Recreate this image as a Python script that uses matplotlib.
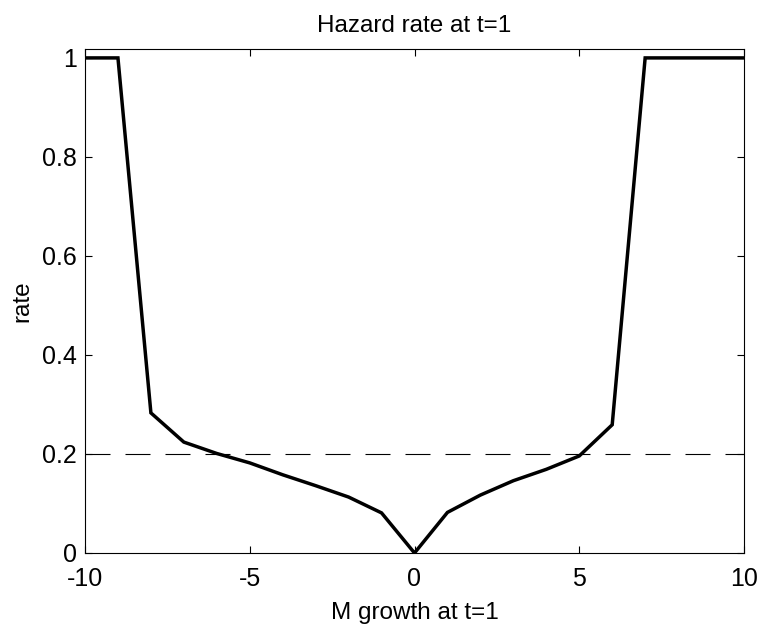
import matplotlib
matplotlib.use("Agg")
import matplotlib.pyplot as plt
import numpy as np

x = [-10, -9, -8, -7, -6, -5, -4, -3, -2, -1, 0, 1, 2, 3, 4, 5, 6, 7, 8, 9, 10]
rate = [1.0, 1.0, 0.283, 0.224, 0.201, 0.182, 0.158, 0.136, 0.113, 0.081, 0.0,
        0.082, 0.117, 0.146, 0.169, 0.196, 0.259, 1.0, 1.0, 1.0, 1.0]
threshold = 0.2
xticks = [-10, -5, 0, 5, 10]
yticks = [0, 0.2, 0.4, 0.6, 0.8, 1]
yticklabels = ["0", "0.2", "0.4", "0.6", "0.8", "1"]

plt.rcParams['font.family'] = ['Liberation Sans', 'DejaVu Sans']
fig = plt.figure(figsize=(7.63, 6.29), dpi=100)
ax = fig.add_axes([85/763, (629-553)/629, (744-85)/763, (553-49)/629])
ax.plot(x, rate, color='black', linewidth=2.5, solid_joinstyle='miter')
ax.axhline(threshold, color='black', linewidth=0.8, linestyle=(0, (22.5, 13.5)))
ax.set_xlim(-10, 10)
ax.set_ylim(0, 1.018)
ax.set_xticks(xticks)
ax.set_xticklabels([str(t) for t in xticks])
ax.set_yticks(yticks)
ax.set_yticklabels(yticklabels)
ax.tick_params(direction='in', length=5, width=0.8, labelsize=18, top=True, right=True)
ax.tick_params(axis='x', pad=10)
ax.tick_params(axis='y', pad=6)
for s in ax.spines.values():
    s.set_linewidth(0.8)
ax.set_title('Hazard rate at t=1', fontsize=17.5, pad=12)
ax.set_xlabel('M growth at t=1', fontsize=17.5, labelpad=8)
ax.set_ylabel('rate', fontsize=17.5, labelpad=6)
fig.savefig('out.png', dpi=100)
